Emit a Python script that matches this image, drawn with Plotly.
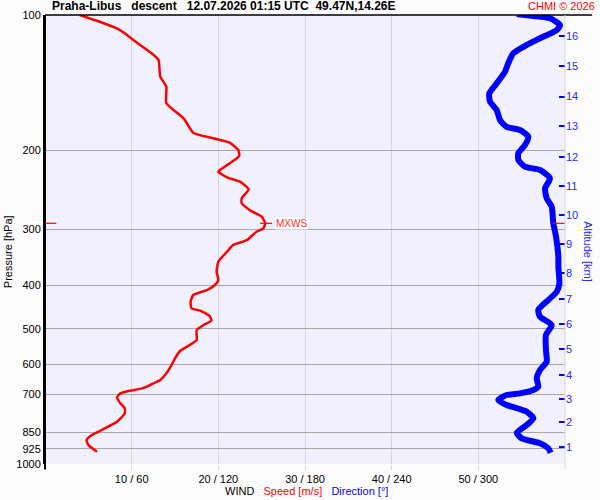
import numpy as np
import plotly.graph_objects as go

# wind speed profile (pressure hPa -> speed m/s)
speed_p = [100.0, 103.5, 107.1, 109.8, 113.7, 121.7, 126.0, 137.2, 144.4, 157.3,
           169.9, 182.9, 188.2, 192.5, 199.8, 206.1, 221.4, 223.4, 229.9, 235.1,
           244.5, 256.0, 262.7, 271.8, 281.3, 291.0, 298.6, 303.8, 317.1, 325.3,
           336.7, 354.3, 373.0, 389.2, 399.3, 409.7, 420.4, 435.0, 450.0, 455.6,
           468.2, 479.5, 490.3, 503.0, 529.4, 543.3, 559.4, 581.6, 601.9, 628.1,
           650.1, 667.1, 678.4, 686.9, 696.0, 710.4, 732.7, 751.6, 771.2, 805.2,
           837.1, 862.0, 884.3, 907.4, 939.1]
speed = [4.0, 6.3, 8.3, 9.2, 10.2, 12.3, 13.1, 13.3, 14.0, 14.0,
         16.0, 17.1, 19.4, 21.3, 22.3, 22.4, 20.2, 20.0, 21.0, 22.5,
         23.5, 22.7, 22.7, 23.6, 25.0, 25.4, 25.2, 24.4, 23.3, 21.7,
         21.0, 20.0, 19.8, 20.0, 19.6, 18.7, 17.1, 16.8, 16.9, 17.9,
         19.0, 19.2, 18.3, 17.5, 17.5, 16.7, 15.6, 15.0, 14.6, 14.0,
         13.3, 12.1, 11.2, 9.8, 8.7, 8.3, 8.7, 9.2, 9.2, 8.3,
         6.7, 5.4, 4.8, 5.0, 6.0]

# wind direction profile (pressure hPa -> degrees)
dir_p = [99.5, 100.5, 101.7, 105.3, 108.0, 112.7, 116.6, 121.7, 128.1, 133.7,
         142.0, 149.4, 156.0, 162.8, 171.4, 177.4, 180.4, 186.6, 194.8, 203.2,
         210.3, 217.7, 221.4, 231.0, 243.2, 256.0, 267.3, 291.0, 311.7, 345.4,
         363.6, 395.9, 413.3, 431.3, 453.9, 469.8, 490.3, 516.1, 557.3, 591.9,
         617.5, 644.3, 672.8, 684.3, 696.0, 702.1, 720.4, 739.1, 764.9, 791.3,
         818.9, 851.9, 876.8, 899.4, 922.6, 943.8]
direction = [326.6, 338.1, 349.6, 356.5, 354.3, 342.7, 333.5, 324.2, 320.7, 318.5,
             312.7, 307.6, 308.1, 312.7, 315.0, 319.6, 328.8, 334.6, 332.3, 327.7,
             327.7, 332.3, 342.7, 349.6, 346.2, 347.3, 350.8, 351.9, 353.8, 355.4,
             355.4, 356.1, 354.3, 348.4, 341.5, 342.7, 350.8, 346.8, 346.8, 347.3,
             342.7, 340.4, 341.5, 338.1, 328.8, 319.6, 313.8, 319.6, 333.5, 338.1,
             333.5, 326.6, 330.0, 342.7, 348.4, 350.1]

# axes
p_ticks = [100, 200, 300, 400, 500, 600, 700, 850, 925, 1000]
speed_ticks = [10, 20, 30, 40, 50]
speed_labels = ["10 / 60", "20 / 120", "30 / 180", "40 / 240", "50 / 300"]
alt_km = [1, 2, 3, 4, 5, 6, 7, 8, 9, 10, 11, 12, 13, 14, 15, 16]
alt_p = [915.0, 807.5, 717.7, 632.6, 555.4, 487.8, 428.3, 374.9, 323.6, 279.4,
         240.4, 206.9, 176.7, 151.9, 129.9, 111.4]

FONT = "Liberation Sans, Arial, sans-serif"
BLUE = "#0000ff"
RED = "#ff0000"

fig = go.Figure()

fig.add_trace(go.Scatter(x=np.array(direction) / 6.0, y=dir_p, mode="lines",
                         line=dict(color=BLUE, width=6, shape="spline", smoothing=0.6),
                         hoverinfo="skip"))
fig.add_trace(go.Scatter(x=speed, y=speed_p, mode="lines",
                         line=dict(color=RED, width=2.5, shape="spline", smoothing=0.5),
                         hoverinfo="skip"))

# max wind marker
i_max = int(np.argmax(speed))
v_max, p_max = speed[i_max], speed_p[i_max]
for xs in ([-0.3, 1.3], [58.6, 60.3], [v_max - 0.6, v_max + 0.8]):
    fig.add_trace(go.Scatter(x=xs, y=[p_max, p_max], mode="lines",
                             line=dict(color=RED, width=1.2), hoverinfo="skip"))
fig.add_annotation(x=v_max + 1.1, y=np.log10(p_max), xref="x", yref="y",
                   text="MXWS", showarrow=False, xanchor="left", yanchor="middle",
                   bgcolor="white", borderpad=0,
                   font=dict(family=FONT, size=10, color="#ff3030"))

# invisible trace for the altitude axis
fig.add_trace(go.Scatter(x=[0], y=[500], yaxis="y2", mode="markers",
                         marker=dict(opacity=0), hoverinfo="skip"))

fig.update_layout(
    width=600, height=500,
    margin=dict(l=45, r=35, t=15, b=36),
    paper_bgcolor="#fcfcfc",
    plot_bgcolor="#f0f0ff",
    showlegend=False,
    font=dict(family=FONT, size=11, color="black"),
    xaxis=dict(range=[0, 60], tickvals=speed_ticks, ticktext=speed_labels,
               showgrid=True, gridcolor="#d6d6d6", gridwidth=1,
               ticks="outside", ticklen=5, tickcolor="#d6d6d6",
               showline=False, zeroline=False, automargin=False),
    yaxis=dict(type="log", range=[3, 2], tickvals=p_ticks,
               ticktext=[str(p) for p in p_ticks],
               showgrid=True, gridcolor="#a8a8a8", gridwidth=1,
               showline=True, linecolor="black", linewidth=2,
               ticks="", zeroline=False, automargin=False),
    yaxis2=dict(type="log", range=[3, 2], overlaying="y", side="right",
                tickvals=alt_p, ticktext=[str(a) for a in alt_km],
                ticks="inside", ticklen=6, tickwidth=1.5, tickcolor=BLUE,
                tickfont=dict(size=11, color="#2828ff"),
                showgrid=False, showline=False, zeroline=False, automargin=False),
)

# frame lines
fig.add_shape(type="line", xref="paper", yref="paper", x0=0, x1=1.052, y0=1, y1=1,
              line=dict(color="black", width=1.5))
fig.add_shape(type="line", xref="paper", yref="paper", x0=1, x1=1, y0=-0.012, y1=1,
              line=dict(color="#d6d6d6", width=1))
fig.add_shape(type="line", xref="paper", yref="paper", x0=0, x1=0, y0=-0.012, y1=1,
              line=dict(color="black", width=2))

# texts
fig.add_annotation(xref="paper", yref="paper", x=0.0096, y=1, yshift=9,
                   xanchor="left", yanchor="middle", showarrow=False,
                   text="<b>Praha-Libus\u00a0\u00a0\u00a0descent\u00a0\u00a0\u00a012.07.2026 01:15 UTC\u00a0\u00a049.47N,14.26E</b>",
                   font=dict(size=12, color="black"))
fig.add_annotation(xref="paper", yref="paper", x=1.0615, y=1, yshift=9,
                   xanchor="right", yanchor="middle", showarrow=False,
                   text="CHMI © 2026", font=dict(size=11, color=RED))
fig.add_annotation(xref="paper", yref="paper", x=0.502, y=0, yshift=-27,
                   xanchor="center", yanchor="middle", showarrow=False,
                   text="WIND\u00a0\u00a0\u00a0<span style='color:#ff0000'>Speed [m/s]</span>\u00a0\u00a0\u00a0"
                        "<span style='color:#0000ff'>Direction [°]</span>",
                   font=dict(size=11, color="black"))
fig.add_annotation(xref="paper", yref="paper", x=-0.071, y=0.472,
                   xanchor="center", yanchor="middle", showarrow=False, textangle=-90,
                   text="Pressure [hPa]", font=dict(size=11, color="black"))
fig.add_annotation(xref="paper", yref="paper", x=1.044, y=0.472,
                   xanchor="center", yanchor="middle", showarrow=False, textangle=90,
                   text="Altitude [km]", font=dict(size=11, color="#2828ff"))

# page without body margin so the 600x500 figure sits at the window corner
fig.write_html("out.html", config={"displayModeBar": False},
               post_script="document.body.style.margin='0';")
